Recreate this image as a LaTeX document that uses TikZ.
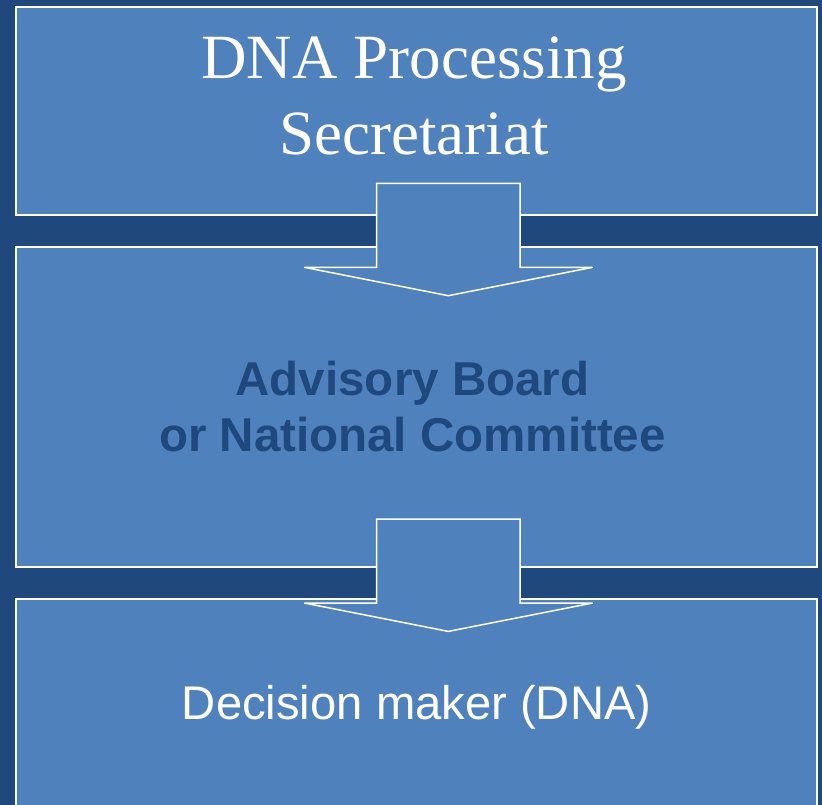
\documentclass[tikz,border=0pt]{standalone}
\usepackage{fontspec}
\setmainfont{Liberation Serif}
\newfontfamily\arialfont{Liberation Sans}
\definecolor{darkbg}{HTML}{1F497D}
\definecolor{boxfill}{HTML}{4F81BD}

\begin{document}
\begin{tikzpicture}[x=1pt, y=-1pt,
    box/.style={draw=white, line width=2pt, fill=boxfill, rectangle, inner sep=0pt},
    arr/.style={draw=white, line width=1.5pt, fill=boxfill, line join=miter}]
    % Background
    \fill[darkbg] (0,0) rectangle (822,805);
    \useasboundingbox (0,0) rectangle (822,805);

    % Boxes
    \node[box, minimum width=801pt, minimum height=208pt] (sec) at (416,110.6) {};
    \node[box, minimum width=801pt, minimum height=320pt] (board) at (416,407.3) {};
    \node[box, minimum width=801pt, minimum height=240pt] (dna) at (416,719.3) {};

    % Block arrows
    \foreach \ty in {183.3, 519} {
        \draw[arr] (376.7,\ty) -- (520,\ty) -- (520,\ty+84) -- (592.7,\ty+84)
            -- (448.3,\ty+112.4) -- (304.3,\ty+84) -- (376.7,\ty+84) -- cycle;
    }

    % Labels
    \node[white, align=center, font=\fontsize{63}{76}\selectfont] (sectxt) at (414,95.5)
        {DNA Processing\\Secretariat};
    \node[darkbg, align=center, font=\arialfont\bfseries\fontsize{47.5}{56}\selectfont] (boardtxt) at (412.5,406.4)
        {Advisory Board\\or National Committee};
    \node[white, font=\arialfont\fontsize{47.2}{56}\selectfont] (dnatxt) at (416.7,707.5)
        {Decision maker (DNA)};
\end{tikzpicture}
\end{document}
